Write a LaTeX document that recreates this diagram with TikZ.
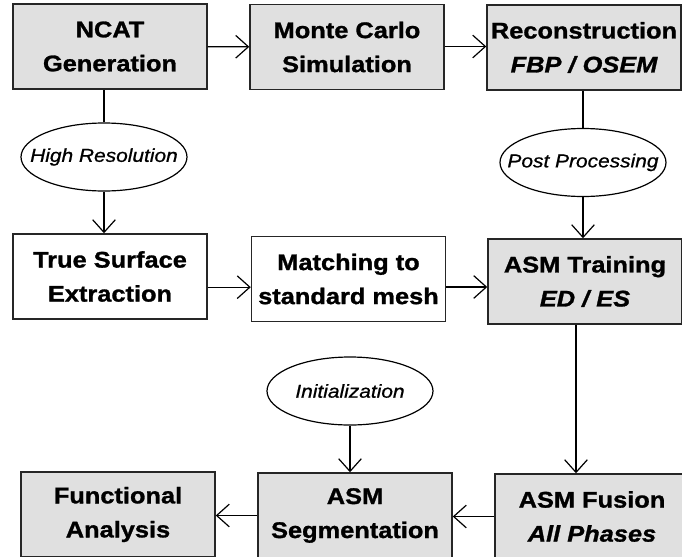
\documentclass[tikz,border=0pt]{standalone}
\usepackage{fontspec}
\setmainfont{Liberation Sans}[FakeStretch=1.12,
    ItalicFeatures={FakeBold=0.8},
    BoldFeatures={FakeBold=1.2},
    BoldItalicFeatures={FakeBold=1.2}]
\usetikzlibrary{shapes.geometric,arrows.meta}
\definecolor{blockGray}{RGB}{224,224,224}
\tikzset{
    block/.style={draw=black!85, line width=1.1pt, minimum width=145.5pt, minimum height=63.75pt,
        inner sep=0pt, align=center, font=\fontsize{17}{25.5}\selectfont\bfseries},
    grayBlock/.style={block, fill=blockGray},
    whiteBlock/.style={block, fill=white},
    stageNote/.style={ellipse, draw, line width=0.9pt, minimum width=124.5pt, minimum height=51pt,
        inner sep=0pt, font=\fontsize{14}{16}\selectfont\itshape}
}
\newcommand{\noteText}[1]{\makebox[0pt]{#1}}

\begin{document}
\begin{tikzpicture}[x=0.75pt, y=-0.75pt, line width=0.9pt, >={Straight Barb[length=9.5pt,width=17pt]}]
			\useasboundingbox (0,0) rectangle (682,557);
			% top row
			\node[grayBlock] (ncat) at (110,46.5) {NCAT\\Generation};
			\node[grayBlock] (monte) at (347,47) {Monte Carlo\\Simulation};
			\node[grayBlock] (recon) at (584,47.5) {Reconstruction\\{\itshape FBP / OSEM}};
			% middle row
			\node[whiteBlock] (surface) at (110,276.5) {True Surface\\Extraction};
			\node[whiteBlock] (match) at (348.5,279) {Matching to\\standard mesh};
			\node[grayBlock] (train) at (585,281.5) {ASM Training\\{\itshape ED / ES}};
			% bottom row
			\node[grayBlock] (func) at (118,514.5) {Functional\\Analysis};
			\node[grayBlock] (segm) at (355,515.5) {ASM\\Segmentation};
			\node[grayBlock] (fusion) at (592,516.5) {ASM Fusion\\{\itshape All Phases}};
			% ellipses
			\node[stageNote] (hires) at (104,157) {\noteText{High Resolution}};
			\node[stageNote] (post) at (583,162.5) {\noteText{Post Processing}};
			\node[stageNote] (init) at (350,391) {\noteText{Initialization}};
			% connectors
			\draw[->] (ncat) -- (monte);
			\draw[->] (monte.east |- ncat) -- (recon.west |- ncat);
			\draw (hires.north) -- (hires.north |- ncat.south);
			\draw[->] (hires.south) -- (hires.south |- surface.north);
			\draw (post.north) -- (post.north |- recon.south);
			\draw[->] (post.south) -- (post.south |- train.north);
			\draw[->] ([yshift=-8pt]surface.east) -- ([yshift=-8pt]surface.east -| match.west);
			\draw[->] ([yshift=-6pt]match.east) -- ([yshift=-6pt]match.east -| train.west);
			\draw[->] ([xshift=-6.75pt]train.south) -- ([xshift=-6.75pt]train.south |- fusion.north);
			\draw[->] (init.south) -- (init.south |- segm.north);
			\draw[->] (fusion.west) -- (fusion.west -| segm.east);
			\draw[->] (segm.west) -- (segm.west -| func.east);
		\end{tikzpicture}
\end{document}
